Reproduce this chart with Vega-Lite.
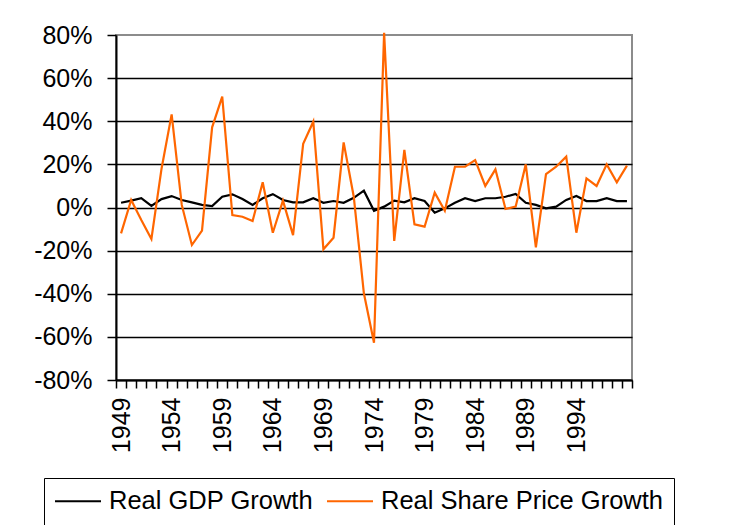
{
  "$schema": "https://vega.github.io/schema/vega-lite/v6.json",
  "autosize": {"type": "none"},
  "padding": {"left": 116, "top": 35, "right": 108, "bottom": 145},
  "width": 516,
  "height": 345,
  "background": "white",
  "config": {
    "font": "Liberation Sans",
    "view": {"stroke": "#8c8c8c", "strokeWidth": 2},
    "axis": {"labelFont": "Liberation Sans", "labelFontSize": 25, "labelColor": "black", "domainColor": "black", "tickColor": "black", "domainWidth": 2, "tickWidth": 1.5, "title": null}
  },
  "data": {
    "values": [
      {"year": 1949, "gdp": 0.022, "share": -0.12},
      {"year": 1950, "gdp": 0.032, "share": 0.035},
      {"year": 1951, "gdp": 0.043, "share": -0.058},
      {"year": 1952, "gdp": 0.007, "share": -0.146},
      {"year": 1953, "gdp": 0.039, "share": 0.18},
      {"year": 1954, "gdp": 0.053, "share": 0.432},
      {"year": 1955, "gdp": 0.035, "share": 0.012},
      {"year": 1956, "gdp": 0.024, "share": -0.174},
      {"year": 1957, "gdp": 0.012, "share": -0.107},
      {"year": 1958, "gdp": 0.007, "share": 0.372},
      {"year": 1959, "gdp": 0.05, "share": 0.514},
      {"year": 1960, "gdp": 0.061, "share": -0.035},
      {"year": 1961, "gdp": 0.039, "share": -0.043},
      {"year": 1962, "gdp": 0.012, "share": -0.063},
      {"year": 1963, "gdp": 0.043, "share": 0.117},
      {"year": 1964, "gdp": 0.062, "share": -0.117},
      {"year": 1965, "gdp": 0.035, "share": 0.032},
      {"year": 1966, "gdp": 0.024, "share": -0.128},
      {"year": 1967, "gdp": 0.024, "share": 0.295},
      {"year": 1968, "gdp": 0.043, "share": 0.398},
      {"year": 1969, "gdp": 0.022, "share": -0.194},
      {"year": 1970, "gdp": 0.03, "share": -0.14},
      {"year": 1971, "gdp": 0.022, "share": 0.302},
      {"year": 1972, "gdp": 0.045, "share": 0.05},
      {"year": 1973, "gdp": 0.078, "share": -0.398},
      {"year": 1974, "gdp": -0.015, "share": -0.627},
      {"year": 1975, "gdp": 0.004, "share": 0.81},
      {"year": 1976, "gdp": 0.032, "share": -0.155},
      {"year": 1977, "gdp": 0.024, "share": 0.267},
      {"year": 1978, "gdp": 0.043, "share": -0.078},
      {"year": 1979, "gdp": 0.03, "share": -0.089},
      {"year": 1980, "gdp": -0.024, "share": 0.069},
      {"year": 1981, "gdp": -0.004, "share": -0.015},
      {"year": 1982, "gdp": 0.022, "share": 0.189},
      {"year": 1983, "gdp": 0.043, "share": 0.189},
      {"year": 1984, "gdp": 0.03, "share": 0.22},
      {"year": 1985, "gdp": 0.043, "share": 0.1},
      {"year": 1986, "gdp": 0.043, "share": 0.177},
      {"year": 1987, "gdp": 0.05, "share": -0.007},
      {"year": 1988, "gdp": 0.063, "share": 0.004},
      {"year": 1989, "gdp": 0.022, "share": 0.2},
      {"year": 1990, "gdp": 0.012, "share": -0.185},
      {"year": 1991, "gdp": -0.004, "share": 0.155},
      {"year": 1992, "gdp": 0.004, "share": 0.189},
      {"year": 1993, "gdp": 0.035, "share": 0.236},
      {"year": 1994, "gdp": 0.053, "share": -0.117},
      {"year": 1995, "gdp": 0.03, "share": 0.135},
      {"year": 1996, "gdp": 0.03, "share": 0.1},
      {"year": 1997, "gdp": 0.043, "share": 0.2},
      {"year": 1998, "gdp": 0.03, "share": 0.117},
      {"year": 1999, "gdp": 0.03, "share": 0.194}
    ]
  },
  "transform": [{"fold": ["gdp", "share"], "as": ["series", "value"]}],
  "mark": {"type": "line", "strokeWidth": 2.2, "clip": false},
  "encoding": {
    "x": {
      "field": "year",
      "type": "ordinal",
      "bandPosition": 0.5,
      "scale": {"type": "band", "paddingInner": 0, "paddingOuter": 0},
      "axis": {
        "tickBand": "extent",
        "tickSize": 8,
        "labelAngle": 270,
        "labelPadding": 9,
        "labelOverlap": false,
        "labelExpr": "datum.value <= 1994 && (datum.value - 1949) % 5 == 0 ? datum.label : ''"
      }
    },
    "y": {
      "field": "value",
      "type": "quantitative",
      "scale": {"domain": [-0.8, 0.8], "nice": false, "zero": false},
      "axis": {
        "values": [-0.8, -0.6, -0.4, -0.2, 0, 0.2, 0.4, 0.6, 0.8],
        "format": ".0%",
        "labelExpr": "replace(datum.label, '\u2212', '-')",
        "tickSize": 9,
        "labelPadding": 15,
        "grid": true,
        "gridColor": "black",
        "gridWidth": 1.6,
        "gridOpacity": {"condition": {"test": "datum.value > 0.79", "value": 0}, "value": 1}
      }
    },
    "color": {
      "field": "series",
      "type": "nominal",
      "scale": {"domain": ["gdp", "share"], "range": ["black", "#ff6600"]},
      "legend": {
        "title": null,
        "orient": "none",
        "legendX": -72,
        "legendY": 443,
        "direction": "horizontal",
        "strokeColor": "black",
        "padding": 10,
        "clipHeight": 26,
        "symbolType": "stroke",
        "symbolSize": 2116,
        "symbolStrokeWidth": 2,
        "labelFont": "Liberation Sans",
        "labelFontSize": 25.5,
        "labelColor": "black",
        "labelOffset": 7,
        "labelLimit": 400,
        "columnPadding": 12,
        "labelExpr": "datum.value == 'gdp' ? 'Real GDP Growth' : 'Real Share Price Growth'"
      }
    }
  }
}
